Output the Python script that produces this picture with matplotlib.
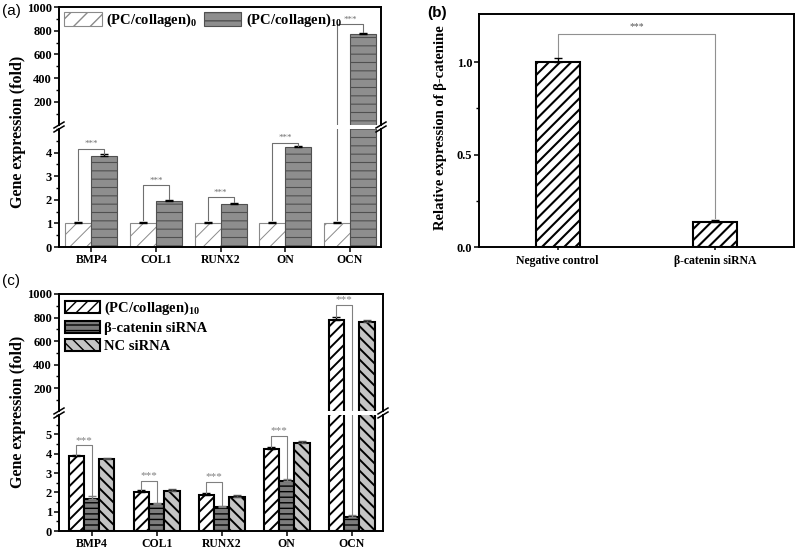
import numpy as np
import matplotlib
matplotlib.use("Agg")
import matplotlib.pyplot as plt
from matplotlib.ticker import MultipleLocator, FixedLocator
from matplotlib.lines import Line2D

plt.rcParams['font.family'] = ['Liberation Serif', 'DejaVu Serif']
plt.rcParams['font.weight'] = 'bold'
plt.rcParams['mathtext.fontset'] = 'custom'
plt.rcParams['mathtext.rm'] = 'Liberation Serif:bold'
plt.rcParams['mathtext.bf'] = 'Liberation Serif:bold'
plt.rcParams['mathtext.it'] = 'Liberation Serif:bold:italic'

# ---------------- data ----------------
genes = ['BMP4', 'COL1', 'RUNX2', 'ON', 'OCN']

# panel (a)
a_pc0 = [1.0, 1.0, 1.0, 1.0, 1.0]
a_pc0_err = [0.08, 0.08, 0.08, 0.08, 0.08]
a_pc10 = [3.85, 1.97, 1.83, 4.22, 775]
a_pc10_err = [0.08, 0.03, 0.05, 0.05, 3]
a_brk = [4.16, 2.62, 2.10, 4.42, 854]        # bracket heights
a_brk_right = [3.95, 2.02, 1.90, 4.30, 785]  # right leg ends

# panel (b)
b_groups = ['Negative control', 'β-catenin siRNA']
b_vals = [1.0, 0.135]
b_err = [0.02, 0.012]

# panel (c)
c_pc10 = [3.87, 2.0, 1.85, 4.25, 783]
c_pc10_err = [0.07, 0.1, 0.12, 0.1, 22]
c_sirna = [1.67, 1.38, 1.22, 2.58, 0.75]
c_sirna_err = [0.12, 0.07, 0.06, 0.1, 0.08]
c_nc = [3.73, 2.07, 1.77, 4.55, 760]
c_nc_err = [0.05, 0.08, 0.07, 0.08, 15]
c_brk = [4.43, 2.60, 2.56, 4.93, 906]
c_brk_left = [3.95, 2.10, 1.98, 4.36, 808]
c_brk_right = [1.80, 1.46, 1.29, 2.70, 0.84]

W, H = 800, 553
fig = plt.figure(figsize=(W / 100, H / 100), dpi=100)


def fx(px):
    return px / W


def fy(py):
    return 1 - py / H


def add_ax(l, t, r, b):
    return fig.add_axes([fx(l), fy(b), fx(r) - fx(l), fy(t) - fy(b)])


def style_ax(ax, lw=1.4):
    for s in ax.spines.values():
        s.set_linewidth(lw)
    ax.tick_params(which='major', direction='out', length=3.5, width=1.1,
                   labelsize=9, pad=1.5)
    ax.tick_params(which='minor', direction='out', length=2, width=1)
    ax.tick_params(right=False, top=False)


def hatched_bar(ax, x, h, w, face, edge, hatch, lw, hlw, lo=None):
    x = np.asarray(x, float)
    h = np.asarray(h, float)
    if lo is not None:
        # upper segment of a broken axis: only the bars that reach it
        keep = h > lo
        x, h = x[keep], h[keep]
        if not keep.any():
            return None
    with plt.rc_context({'hatch.linewidth': hlw}):
        bars = ax.bar(x, h, w, color=face, edgecolor=edge, hatch=hatch,
                      linewidth=lw, zorder=2)
    for b in bars:
        if hasattr(b, 'set_hatch_linewidth'):
            b.set_hatch_linewidth(hlw)
    return bars


def up_err(ax, x, y, e, lo, hi, color='black'):
    # only the error bars whose top falls inside this axis segment
    x = np.asarray(x, float)
    y = np.asarray(y, float)
    e = np.asarray(e, float)
    keep = (y + e > lo) & (y + e <= hi)
    if not keep.any():
        return
    ax.errorbar(x[keep], y[keep], yerr=[np.zeros(keep.sum()), e[keep]],
                fmt='none', ecolor=color, elinewidth=1.0, capsize=3,
                capthick=1.0, zorder=3)


def break_marks(ax_top, ax_bot):
    p1 = ax_top.get_position()
    p2 = ax_bot.get_position()
    ym = (p1.y0 + p2.y1) / 2
    for xx in (p1.x0, p1.x1):
        for dy in (-2.0, 2.0):
            x0 = xx - fx(5)
            x1 = xx + fx(5)
            fig.add_artist(Line2D([x0, x1], [ym + dy / H - 3 / H, ym + dy / H + 3 / H],
                                  color='black', lw=1.1, transform=fig.transFigure))


def broken_pair(t, m1, m2, b, l=59, r=381):
    top = add_ax(l, t, r, m1)
    bot = add_ax(l, m2, r, b)
    for ax in (top, bot):
        style_ax(ax)
    top.spines['bottom'].set_visible(False)
    bot.spines['top'].set_visible(False)
    top.tick_params(bottom=False, labelbottom=False)
    top.yaxis.set_major_locator(FixedLocator([200, 400, 600, 800, 1000]))
    top.yaxis.set_minor_locator(FixedLocator([100, 300, 500, 700, 900]))
    bot.yaxis.set_minor_locator(MultipleLocator(0.5))
    bot.set_xticks(range(len(genes)))
    bot.set_xticklabels(genes, fontsize=8.5)
    bot.tick_params(axis='x', which='minor', bottom=False)
    for ax in (top, bot):
        ax.set_xlim(-0.5, 4.48)
    return top, bot


def bracket(top, bot, split, x1, y1, x2, y2, yb, color, fs):
    bot.plot([x1, x1, x2, x2], [y1, yb, yb, y2], color=color, lw=0.8, zorder=4)
    if yb > split:
        top.plot([x1, x1, x2, x2], [y1, yb, yb, y2], color=color, lw=0.8, zorder=4)
    ax = top if yb > split else bot
    ax.annotate('***', xy=((x1 + x2) / 2, yb), xytext=(0, 0.5),
                textcoords='offset points', ha='center', va='bottom',
                fontsize=fs, color=color, fontweight='normal')


x = np.arange(len(genes))

# ---------------- panel (a) ----------------
a_top, a_bot = broken_pair(7, 125, 129, 247, r=381)
a_bot.set_ylim(0, 5)
a_top.set_ylim(5, 1000)
a_bot.set_yticks([0, 1, 2, 3, 4])
wa = 0.4
a_handles = []
for ax, lo, hi in ((a_bot, -1, 5), (a_top, 5, 1000)):
    cut = lo if ax is a_top else None
    h0 = hatched_bar(ax, x - wa / 2, a_pc0, wa, 'white', '#8a8a8a', '//', 0.8, 0.7, cut)
    h1 = hatched_bar(ax, x + wa / 2, a_pc10, wa, '#8e8e8e', '#505050', '--', 0.8, 0.8, cut)
    if ax is a_bot:
        a_handles = [h0, h1]
    up_err(ax, x - wa / 2, a_pc0, a_pc0_err, lo, hi)
    up_err(ax, x + wa / 2, a_pc10, a_pc10_err, lo, hi)
for i in range(len(genes)):
    bracket(a_top, a_bot, 5, x[i] - wa / 2, a_pc0[i] + a_pc0_err[i] + 0.05,
            x[i] + wa / 2, a_brk_right[i], a_brk[i], '#707070', 6.5)
a_top.legend(handles=a_handles,
             labels=['(PC/collagen)$_{0}$', '(PC/collagen)$_{10}$'],
             loc='upper left', ncol=2, frameon=False, fontsize=10.5,
             handlelength=2.6, handleheight=1.1, columnspacing=0.4,
             handletextpad=0.3, borderaxespad=0.15, borderpad=0.2)
break_marks(a_top, a_bot)
fig.text(fx(18), fy(132), 'Gene expression (fold)', rotation=90, ha='center',
         va='center', fontsize=11.5)
fig.text(fx(2), fy(11), '(a)', family='Liberation Sans', fontsize=11,
         fontweight='normal', va='center')

# ---------------- panel (b) ----------------
ax_b = add_ax(479, 14, 794, 247)
style_ax(ax_b)
xb = np.arange(len(b_groups))
hatched_bar(ax_b, xb, b_vals, 0.28, 'white', 'black', '///', 1.5, 1.5)
up_err(ax_b, xb, b_vals, b_err, -1, 2)
ax_b.set_xlim(-0.5, 1.5)
ax_b.set_ylim(0, 1.26)
ax_b.set_yticks([0, 0.5, 1.0])
ax_b.set_yticklabels(['0.0', '0.5', '1.0'])
ax_b.yaxis.set_minor_locator(FixedLocator([0.25, 0.75]))
ax_b.set_xticks(xb)
ax_b.set_xticklabels(b_groups, fontsize=8.5)
ax_b.tick_params(axis='x', length=2, pad=4)
ax_b.plot([0, 0, 1, 1], [1.03, 1.15, 1.15, 0.155], color='#909090', lw=0.8)
ax_b.annotate('***', xy=(0.5, 1.15), xytext=(0, 2), textcoords='offset points',
              ha='center', va='bottom', fontsize=7, color='#555555',
              fontweight='normal')
fig.text(fx(440), fy(128), 'Relative expression of β-catenine', rotation=90,
         ha='center', va='center', fontsize=10.5)
fig.text(fx(427), fy(13), '(b)', family='Liberation Sans', fontsize=11,
         fontweight='bold', va='center')

# ---------------- panel (c) ----------------
c_top, c_bot = broken_pair(294, 411, 415, 531, r=383)
c_bot.set_ylim(0, 6)
c_top.set_ylim(6, 1000)
c_bot.set_yticks([0, 1, 2, 3, 4, 5])
wc = 0.235
c_handles = []
for ax, lo, hi in ((c_bot, -1, 6), (c_top, 6, 1000)):
    cut = lo if ax is c_top else None
    h0 = hatched_bar(ax, x - wc, c_pc10, wc, 'white', 'black', '///', 1.5, 1.4, cut)
    h1 = hatched_bar(ax, x, c_sirna, wc, '#7c7c7c', 'black', '---', 1.5, 1.0, cut)
    h2 = hatched_bar(ax, x + wc, c_nc, wc, '#c4c4c4', 'black', '\\\\\\', 1.5, 1.4, cut)
    if ax is c_bot:
        c_handles = [h0, h1, h2]
    up_err(ax, x - wc, c_pc10, c_pc10_err, lo, hi)
    up_err(ax, x, c_sirna, c_sirna_err, lo, hi, color='#808080')
    up_err(ax, x + wc, c_nc, c_nc_err, lo, hi, color='#505050')
for i in range(len(genes)):
    bracket(c_top, c_bot, 6, x[i] - wc, c_brk_left[i], x[i], c_brk_right[i],
            c_brk[i], '#808080', 8)
c_top.legend(handles=c_handles,
             labels=['(PC/collagen)$_{10}$', 'β-catenin siRNA', 'NC siRNA'],
             loc='upper left', ncol=1, frameon=False, fontsize=10.5,
             handlelength=2.4, handleheight=0.9, labelspacing=0.25,
             handletextpad=0.3, borderaxespad=0.15, borderpad=0.25)
break_marks(c_top, c_bot)
fig.text(fx(18), fy(412), 'Gene expression (fold)', rotation=90, ha='center',
         va='center', fontsize=11.5)
fig.text(fx(2), fy(281), '(c)', family='Liberation Sans', fontsize=11,
         fontweight='normal', va='center')

fig.savefig('out.png', dpi=100)
